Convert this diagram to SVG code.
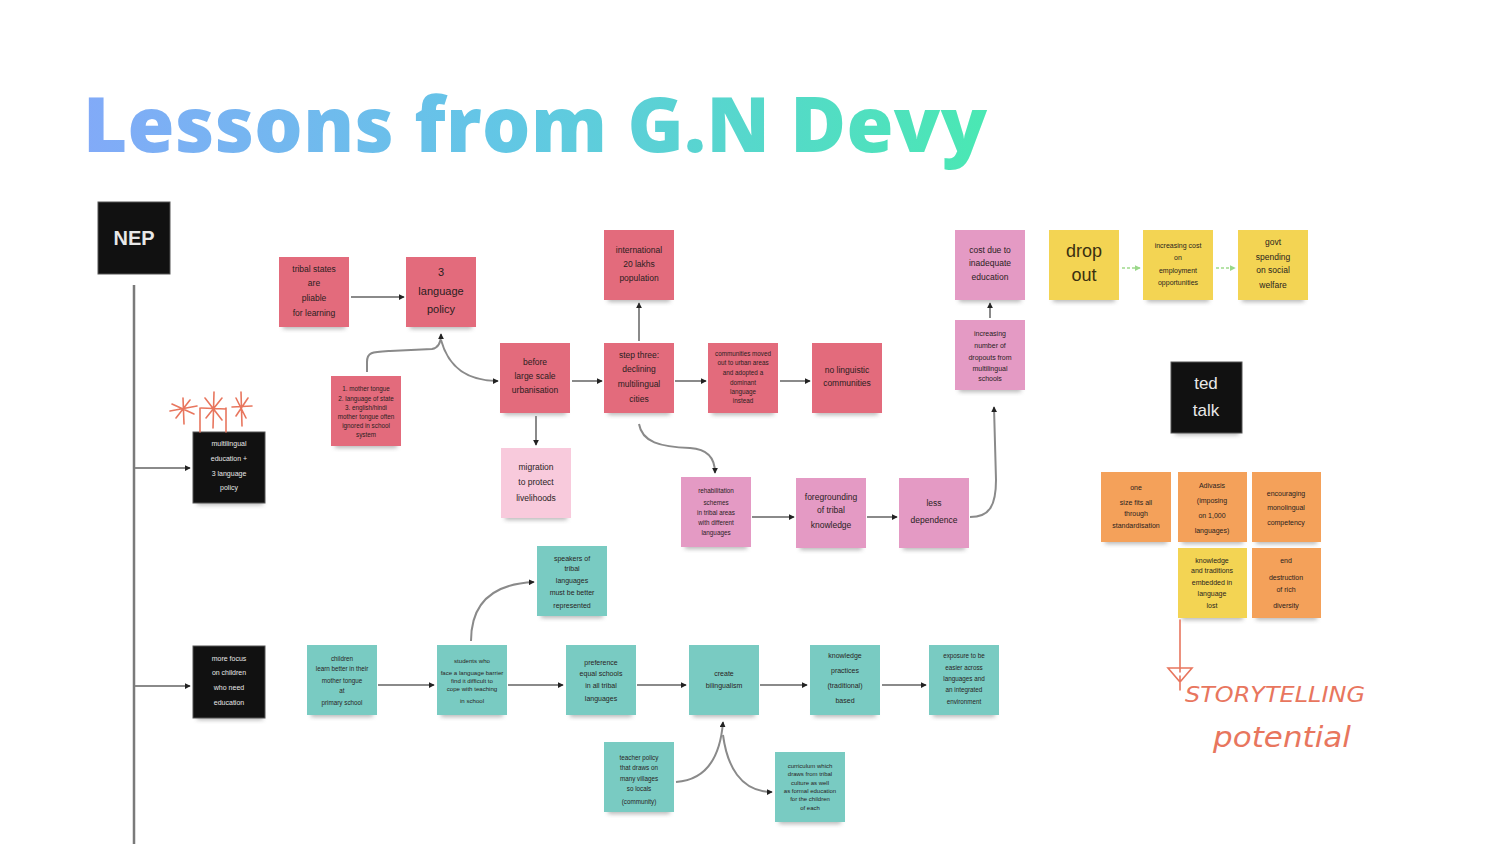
<svg xmlns="http://www.w3.org/2000/svg" width="1500" height="844" viewBox="0 0 1500 844">
<defs>
<linearGradient id="tg" gradientUnits="userSpaceOnUse" x1="83" y1="0" x2="987" y2="0">
<stop offset="0" stop-color="#82aaf8"/><stop offset="0.45" stop-color="#63c6e6"/><stop offset="1" stop-color="#4ae8b3"/>
</linearGradient>
<filter id="blur" x="-20%" y="-50%" width="140%" height="200%"><feGaussianBlur stdDeviation="2"/></filter>
<marker id="ah" viewBox="0 0 8 8" refX="7" refY="4" markerWidth="6" markerHeight="6" orient="auto" markerUnits="userSpaceOnUse">
<path d="M0,0 L8,4 L0,8 z" fill="#222"/></marker>
<marker id="ahg" viewBox="0 0 8 8" refX="7" refY="4" markerWidth="6" markerHeight="6" orient="auto" markerUnits="userSpaceOnUse">
<path d="M0,0 L8,4 L0,8 z" fill="#9ad88a"/></marker>
<style>
.sh{fill:#9a9a9a;filter:url(#blur);opacity:.7}
.red{fill:#e36b7c}
.pink{fill:#e49ac4}
.lpink{fill:#f8cadc}
.teal{fill:#79cbc2}
.yel{fill:#f3d453}
.ora{fill:#f4a15a}
.blk{fill:#111;stroke:#555;stroke-width:1}
.t{font-family:"Liberation Sans",Arial,sans-serif;fill:#2a1e1e;text-anchor:middle;font-size:7px}
.tm{font-size:8.5px}
.tb{font-size:11px}
.w{fill:#e8e8e8}
.c{fill:none;stroke:#8a8a8a;stroke-width:2;marker-end:url(#ah)}
.cg{fill:none;stroke:#b6e3a8;stroke-width:2;stroke-dasharray:3 2;marker-end:url(#ahg)}
.hand{fill:none;stroke:#e8765e;stroke-width:1.6;stroke-linecap:round}
.ht{font-family:"DejaVu Sans",sans-serif;fill:#e8765e;font-style:italic;font-weight:300}
</style>
</defs>
<rect width="1500" height="844" fill="#ffffff"/>
<text x="83" y="152" font-family="'Open Sans',sans-serif" font-weight="800" font-size="76" fill="url(#tg)" textLength="904" lengthAdjust="spacing">Lessons from G.N Devy</text>

<g id="connectors">
<line x1="134" y1="285" x2="134" y2="844" stroke="#7a7a7a" stroke-width="2.5"/>
<line x1="135" y1="468" x2="190" y2="468" class="c"/>
<line x1="135" y1="686" x2="190" y2="686" class="c"/>
<line x1="351" y1="297" x2="404" y2="297" class="c"/>
<path d="M367,372 L367,362 C367,352 372,352 390,351 L432,349 C438,348 441,344 441,334" class="c"/>
<path d="M441,340 C446,358 458,381 498,381" class="c"/>
<line x1="572" y1="381" x2="602" y2="381" class="c"/>
<line x1="639" y1="341" x2="639" y2="303" class="c"/>
<line x1="675" y1="381" x2="706" y2="381" class="c"/>
<line x1="780" y1="381" x2="810" y2="381" class="c"/>
<line x1="536" y1="416" x2="536" y2="445" class="c"/>
<path d="M639,424 C642,442 660,447 690,448 C708,449 715,458 715,473" class="c"/>
<line x1="752" y1="517" x2="794" y2="517" class="c"/>
<line x1="867" y1="517" x2="897" y2="517" class="c"/>
<path d="M970,517 C990,517 996,505 996,480 L994,407" class="c"/>
<line x1="990" y1="318" x2="990" y2="303" class="c"/>
<line x1="1122" y1="268" x2="1140" y2="268" class="cg"/>
<line x1="1216" y1="268" x2="1235" y2="268" class="cg"/>
<line x1="378" y1="685" x2="434" y2="685" class="c"/>
<line x1="508" y1="685" x2="563" y2="685" class="c"/>
<line x1="637" y1="685" x2="686" y2="685" class="c"/>
<line x1="760" y1="685" x2="807" y2="685" class="c"/>
<line x1="882" y1="685" x2="926" y2="685" class="c"/>
<path d="M471,641 C471,605 490,584 534,582" class="c"/>
<path d="M676,782 C705,780 720,760 723,722" class="c"/>
<path d="M723,735 C727,765 740,792 772,792" class="c"/>
</g>

<g id="nep"><rect x="98" y="202" width="72" height="72" class="blk"/><text class="t w" x="134" y="245" font-weight="bold" style="font-size:20px">NEP</text></g>

<g id="multilingual"><rect class="sh" x="197" y="497" width="66" height="8"/><rect x="193" y="432" width="72" height="71" class="blk"/>
<text class="t w"><tspan x="229" y="446">multilingual</tspan><tspan x="229" y="461">education +</tspan><tspan x="229" y="476">3 language</tspan><tspan x="229" y="490">policy</tspan></text></g>

<g id="morefocus"><rect class="sh" x="197" y="712" width="66" height="8"/><rect x="193" y="646" width="72" height="72" class="blk"/>
<text class="t w"><tspan x="229" y="661">more focus</tspan><tspan x="229" y="675">on children</tspan><tspan x="229" y="690">who need</tspan><tspan x="229" y="705">education</tspan></text></g>

<g id="tedtalk"><rect class="sh" x="1175" y="427" width="64" height="8"/><rect x="1171" y="362" width="71" height="71" class="blk"/>
<text class="t w" style="font-size:17px"><tspan x="1206" y="389">ted</tspan><tspan x="1206" y="416">talk</tspan></text></g>

<g id="r1"><rect class="sh" x="283" y="321" width="62" height="8"/><rect class="red" x="279" y="257" width="70" height="70"/>
<text class="t tm"><tspan x="314" y="272">tribal states</tspan><tspan x="314" y="286">are</tspan><tspan x="314" y="301">pliable</tspan><tspan x="314" y="316">for learning</tspan></text></g>

<g id="r2"><rect class="sh" x="410" y="321" width="62" height="8"/><rect class="red" x="406" y="257" width="70" height="70"/>
<text class="t tb"><tspan x="441" y="276">3</tspan><tspan x="441" y="295">language</tspan><tspan x="441" y="313">policy</tspan></text></g>

<g id="r3"><rect class="sh" x="335" y="440" width="62" height="8"/><rect class="red" x="331" y="376" width="70" height="70"/>
<text class="t" style="font-size:6.3px"><tspan x="366" y="391">1. mother tongue</tspan><tspan x="366" y="401">2. language of state</tspan><tspan x="366" y="410">3. english/hindi</tspan><tspan x="366" y="419">mother tongue often</tspan><tspan x="366" y="428">ignored in school</tspan><tspan x="366" y="437">system</tspan></text></g>

<g id="r4"><rect class="sh" x="504" y="407" width="62" height="8"/><rect class="red" x="500" y="343" width="70" height="70"/>
<text class="t tm"><tspan x="535" y="365">before</tspan><tspan x="535" y="379">large scale</tspan><tspan x="535" y="393">urbanisation</tspan></text></g>

<g id="r5"><rect class="sh" x="608" y="294" width="62" height="8"/><rect class="red" x="604" y="230" width="70" height="70"/>
<text class="t tm"><tspan x="639" y="253">international</tspan><tspan x="639" y="267">20 lakhs</tspan><tspan x="639" y="281">population</tspan></text></g>

<g id="r6"><rect class="sh" x="608" y="407" width="62" height="8"/><rect class="red" x="604" y="343" width="70" height="70"/>
<text class="t tm"><tspan x="639" y="358">step three:</tspan><tspan x="639" y="372">declining</tspan><tspan x="639" y="387">multilingual</tspan><tspan x="639" y="402">cities</tspan></text></g>

<g id="r7"><rect class="sh" x="712" y="407" width="62" height="8"/><rect class="red" x="708" y="343" width="70" height="70"/>
<text class="t" style="font-size:6.3px"><tspan x="743" y="356">communities moved</tspan><tspan x="743" y="365">out to urban areas</tspan><tspan x="743" y="375">and adopted a</tspan><tspan x="743" y="385">dominant</tspan><tspan x="743" y="394">language</tspan><tspan x="743" y="403">instead</tspan></text></g>

<g id="r8"><rect class="sh" x="816" y="407" width="62" height="8"/><rect class="red" x="812" y="343" width="70" height="70"/>
<text class="t tm"><tspan x="847" y="373">no linguistic</tspan><tspan x="847" y="386">communities</tspan></text></g>

<g id="lp1"><rect class="sh" x="505" y="512" width="62" height="8"/><rect class="lpink" x="501" y="448" width="70" height="70"/>
<text class="t tm"><tspan x="536" y="470">migration</tspan><tspan x="536" y="485">to protect</tspan><tspan x="536" y="501">livelihoods</tspan></text></g>

<g id="p1"><rect class="sh" x="685" y="541" width="62" height="8"/><rect class="pink" x="681" y="477" width="70" height="70"/>
<text class="t" style="font-size:6.3px"><tspan x="716" y="493">rehabilitation</tspan><tspan x="716" y="505">schemes</tspan><tspan x="716" y="515">in tribal areas</tspan><tspan x="716" y="525">with different</tspan><tspan x="716" y="535">languages</tspan></text></g>

<g id="p2"><rect class="sh" x="800" y="542" width="62" height="8"/><rect class="pink" x="796" y="478" width="70" height="70"/>
<text class="t tm"><tspan x="831" y="500">foregrounding</tspan><tspan x="831" y="513">of tribal</tspan><tspan x="831" y="528">knowledge</tspan></text></g>

<g id="p3"><rect class="sh" x="903" y="542" width="62" height="8"/><rect class="pink" x="899" y="478" width="70" height="70"/>
<text class="t tm"><tspan x="934" y="506">less</tspan><tspan x="934" y="523">dependence</tspan></text></g>

<g id="p4"><rect class="sh" x="959" y="294" width="62" height="8"/><rect class="pink" x="955" y="230" width="70" height="70"/>
<text class="t tm"><tspan x="990" y="253">cost due to</tspan><tspan x="990" y="266">inadequate</tspan><tspan x="990" y="280">education</tspan></text></g>

<g id="p5"><rect class="sh" x="959" y="384" width="62" height="8"/><rect class="pink" x="955" y="320" width="70" height="70"/>
<text class="t"><tspan x="990" y="336">increasing</tspan><tspan x="990" y="348">number of</tspan><tspan x="990" y="360">dropouts from</tspan><tspan x="990" y="371">multilingual</tspan><tspan x="990" y="381">schools</tspan></text></g>

<g id="y1"><rect class="sh" x="1053" y="294" width="62" height="8"/><rect class="yel" x="1049" y="230" width="70" height="70"/>
<text class="t" style="font-size:18px;fill:#3a3010"><tspan x="1084" y="257">drop</tspan><tspan x="1084" y="281">out</tspan></text></g>

<g id="y2"><rect class="sh" x="1147" y="294" width="62" height="8"/><rect class="yel" x="1143" y="230" width="70" height="70"/>
<text class="t"><tspan x="1178" y="248">increasing cost</tspan><tspan x="1178" y="260">on</tspan><tspan x="1178" y="273">employment</tspan><tspan x="1178" y="285">opportunities</tspan></text></g>

<g id="y3"><rect class="sh" x="1242" y="294" width="62" height="8"/><rect class="yel" x="1238" y="230" width="70" height="70"/>
<text class="t tm"><tspan x="1273" y="245">govt</tspan><tspan x="1273" y="260">spending</tspan><tspan x="1273" y="273">on social</tspan><tspan x="1273" y="288">welfare</tspan></text></g>

<g id="o1"><rect class="sh" x="1105" y="536" width="62" height="8"/><rect class="ora" x="1101" y="472" width="70" height="70"/>
<text class="t"><tspan x="1136" y="490">one</tspan><tspan x="1136" y="505">size fits all</tspan><tspan x="1136" y="516">through</tspan><tspan x="1136" y="528">standardisation</tspan></text></g>

<g id="o2"><rect class="sh" x="1182" y="536" width="61" height="8"/><rect class="ora" x="1178" y="472" width="69" height="70"/>
<text class="t"><tspan x="1212" y="488">Adivasis</tspan><tspan x="1212" y="503">(imposing</tspan><tspan x="1212" y="518">on 1,000</tspan><tspan x="1212" y="533">languages)</tspan></text></g>

<g id="o3"><rect class="sh" x="1256" y="536" width="61" height="8"/><rect class="ora" x="1252" y="472" width="69" height="70"/>
<text class="t"><tspan x="1286" y="496">encouraging</tspan><tspan x="1286" y="510">monolingual</tspan><tspan x="1286" y="525">competency</tspan></text></g>

<g id="y4"><rect class="sh" x="1182" y="612" width="61" height="8"/><rect class="yel" x="1178" y="548" width="69" height="70"/>
<text class="t"><tspan x="1212" y="563">knowledge</tspan><tspan x="1212" y="573">and traditions</tspan><tspan x="1212" y="585">embedded in</tspan><tspan x="1212" y="596">language</tspan><tspan x="1212" y="608">lost</tspan></text></g>

<g id="o4"><rect class="sh" x="1256" y="612" width="61" height="8"/><rect class="ora" x="1252" y="548" width="69" height="70"/>
<text class="t"><tspan x="1286" y="563">end</tspan><tspan x="1286" y="580">destruction</tspan><tspan x="1286" y="592">of rich</tspan><tspan x="1286" y="608">diversity</tspan></text></g>

<g id="t1"><rect class="sh" x="541" y="610" width="62" height="8"/><rect class="teal" x="537" y="546" width="70" height="70"/>
<text class="t"><tspan x="572" y="561">speakers of</tspan><tspan x="572" y="571">tribal</tspan><tspan x="572" y="583">languages</tspan><tspan x="572" y="595">must be better</tspan><tspan x="572" y="608">represented</tspan></text></g>

<g id="t2"><rect class="sh" x="311" y="709" width="62" height="8"/><rect class="teal" x="307" y="645" width="70" height="70"/>
<text class="t" style="font-size:6.3px"><tspan x="342" y="661">children</tspan><tspan x="342" y="671">learn better in their</tspan><tspan x="342" y="683">mother tongue</tspan><tspan x="342" y="693">at</tspan><tspan x="342" y="705">primary school</tspan></text></g>

<g id="t3"><rect class="sh" x="441" y="709" width="62" height="8"/><rect class="teal" x="437" y="645" width="70" height="70"/>
<text class="t" style="font-size:6.1px"><tspan x="472" y="663">students who</tspan><tspan x="472" y="675">face a language barrier</tspan><tspan x="472" y="683">find it difficult to</tspan><tspan x="472" y="691">cope with teaching</tspan><tspan x="472" y="703">in school</tspan></text></g>

<g id="t4"><rect class="sh" x="570" y="709" width="62" height="8"/><rect class="teal" x="566" y="645" width="70" height="70"/>
<text class="t"><tspan x="601" y="665">preference</tspan><tspan x="601" y="676">equal schools</tspan><tspan x="601" y="688">in all tribal</tspan><tspan x="601" y="701">languages</tspan></text></g>

<g id="t5"><rect class="sh" x="693" y="709" width="62" height="8"/><rect class="teal" x="689" y="645" width="70" height="70"/>
<text class="t"><tspan x="724" y="676">create</tspan><tspan x="724" y="688">bilingualism</tspan></text></g>

<g id="t6"><rect class="sh" x="814" y="709" width="62" height="8"/><rect class="teal" x="810" y="645" width="70" height="70"/>
<text class="t"><tspan x="845" y="658">knowledge</tspan><tspan x="845" y="673">practices</tspan><tspan x="845" y="688">(traditional)</tspan><tspan x="845" y="703">based</tspan></text></g>

<g id="t7"><rect class="sh" x="933" y="709" width="62" height="8"/><rect class="teal" x="929" y="645" width="70" height="70"/>
<text class="t" style="font-size:6.3px"><tspan x="964" y="658">exposure to be</tspan><tspan x="964" y="670">easier across</tspan><tspan x="964" y="681">languages and</tspan><tspan x="964" y="692">an integrated</tspan><tspan x="964" y="704">environment</tspan></text></g>

<g id="t8"><rect class="sh" x="608" y="806" width="62" height="8"/><rect class="teal" x="604" y="742" width="70" height="70"/>
<text class="t" style="font-size:6.3px"><tspan x="639" y="760">teacher policy</tspan><tspan x="639" y="770">that draws on</tspan><tspan x="639" y="781">many villages</tspan><tspan x="639" y="791">so locals</tspan><tspan x="639" y="804">(community)</tspan></text></g>

<g id="t9"><rect class="sh" x="779" y="816" width="62" height="8"/><rect class="teal" x="775" y="752" width="70" height="70"/>
<text class="t" style="font-size:6px"><tspan x="810" y="768">curriculum which</tspan><tspan x="810" y="776">draws from tribal</tspan><tspan x="810" y="785">culture as well</tspan><tspan x="810" y="793">as formal education</tspan><tspan x="810" y="801">for the children</tspan><tspan x="810" y="810">of each</tspan></text></g>

<g id="annotations">
<path class="hand" d="M172,404 L194,414 M176,418 L190,400 M183,398 L184,424 M170,411 L197,406 M205,398 L222,420 M206,418 L222,398 M214,392 L213,428 M201,408 L226,409 M236,398 L246,418 M236,416 L248,398 M241,392 L242,426 M232,407 L252,406 M200,408 L200,432 M226,408 L226,432"/>
<path class="hand" d="M1180,620 L1180,672 M1168,668 L1192,668 L1180,682 Z M1180,676 L1180,690"/>
<text class="ht" x="1185" y="702" font-size="22" textLength="180" lengthAdjust="spacingAndGlyphs">STORYTELLING</text>
<text class="ht" x="1213" y="747" font-size="28" textLength="138" lengthAdjust="spacingAndGlyphs">potential</text>
</g>
</svg>
